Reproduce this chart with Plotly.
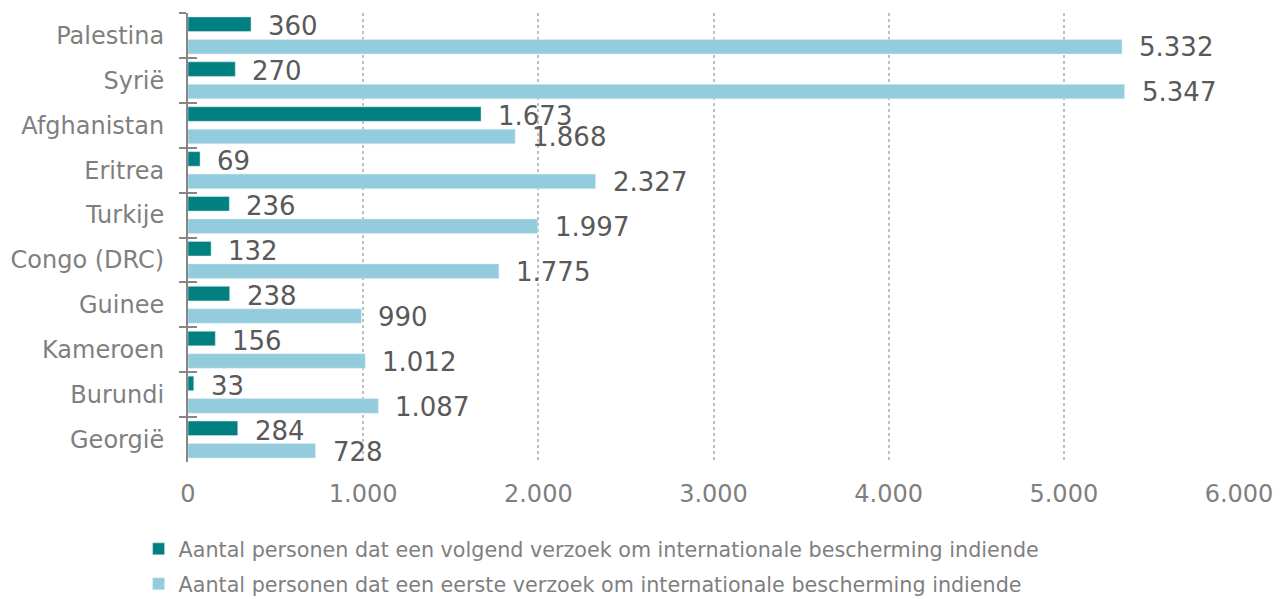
import plotly.graph_objects as go

countries = ["Palestina", "Syrië", "Afghanistan", "Eritrea", "Turkije",
             "Congo (DRC)", "Guinee", "Kameroen", "Burundi", "Georgië"]
volgend = [360, 270, 1673, 69, 236, 132, 238, 156, 33, 284]
eerste = [5332, 5347, 1868, 2327, 1997, 1775, 990, 1012, 1087, 728]
name_volgend = "Aantal personen dat een volgend verzoek om internationale bescherming indiende"
name_eerste = "Aantal personen dat een eerste verzoek om internationale bescherming indiende"
x_ticks = [0, 1000, 2000, 3000, 4000, 5000, 6000]

DARK = "#008080"
LIGHT = "#93CDDD"
FONT = "DejaVu Sans"


def fmt(v):
    return f"{v:,}".replace(",", ".")


fig = go.Figure()
fig.add_trace(go.Bar(y=countries, x=volgend, orientation="h", name=name_volgend,
                     marker=dict(color=DARK), legendgroup="a", hoverinfo="x+y"))
fig.add_trace(go.Bar(y=countries, x=eerste, orientation="h", name=name_eerste,
                     marker=dict(color=LIGHT), legendgroup="b", hoverinfo="x+y"))
# invisible helper trace for inner tick marks on the category axis
fig.add_trace(go.Scatter(y=countries, x=[0] * len(countries), mode="markers",
                         marker=dict(opacity=0), yaxis="y2", showlegend=False,
                         hoverinfo="skip"))

annotations = []
for c, v in zip(countries, volgend):
    annotations.append(dict(x=v, y=c, xref="x", yref="y", text=fmt(v), showarrow=False,
                            xanchor="left", yanchor="middle", xshift=15, yshift=9,
                            font=dict(family=FONT, size=26, color="#595959")))
for c, v in zip(countries, eerste):
    annotations.append(dict(x=v, y=c, xref="x", yref="y", text=fmt(v), showarrow=False,
                            xanchor="left", yanchor="middle", xshift=15, yshift=-12,
                            font=dict(family=FONT, size=26, color="#595959")))

n = len(countries)
fig.update_layout(
    width=1283, height=599,
    margin=dict(l=188, r=44, t=13, b=137, autoexpand=False),
    paper_bgcolor="white", plot_bgcolor="white",
    font=dict(family=FONT, color="#7F7F7F"),
    barmode="group", bargap=0.0, bargroupgap=0.35,
    separators=",.",
    xaxis=dict(range=[0, 6000], tickvals=x_ticks, tickformat=",d", automargin=False,
               showgrid=True, gridcolor="#BFBFBF", griddash="dot", gridwidth=1.5,
               zeroline=False, showline=False, ticks="",
               tickfont=dict(size=24, color="#7F7F7F"), ticklabelstandoff=15),
    yaxis=dict(range=[n - 0.5, -0.5], autorange=False,
               categoryorder="array", categoryarray=countries,
               showline=True, linecolor="#868686", linewidth=2,
               ticks="outside", ticklen=7, tickwidth=2, tickcolor="#868686",
               tickson="boundaries", showgrid=False, automargin=False,
               tickfont=dict(size=24, color="#7F7F7F"), ticklabelstandoff=17),
    yaxis2=dict(overlaying="y", matches="y", anchor="x", side="left",
                ticks="inside", ticklen=9, tickwidth=2, tickcolor="#868686",
                tickson="boundaries", showticklabels=False, showgrid=False,
                showline=False, automargin=False),
    legend=dict(orientation="v", x=-0.047, xanchor="left", y=-0.149, yanchor="top",
                traceorder="grouped", tracegroupgap=5,
                font=dict(size=20.7, color="#7F7F7F")),
    annotations=annotations,
)

fig.write_html("out.html", config={"displayModeBar": False},
               post_script="document.body.style.margin='0';document.body.style.overflow='hidden';")
